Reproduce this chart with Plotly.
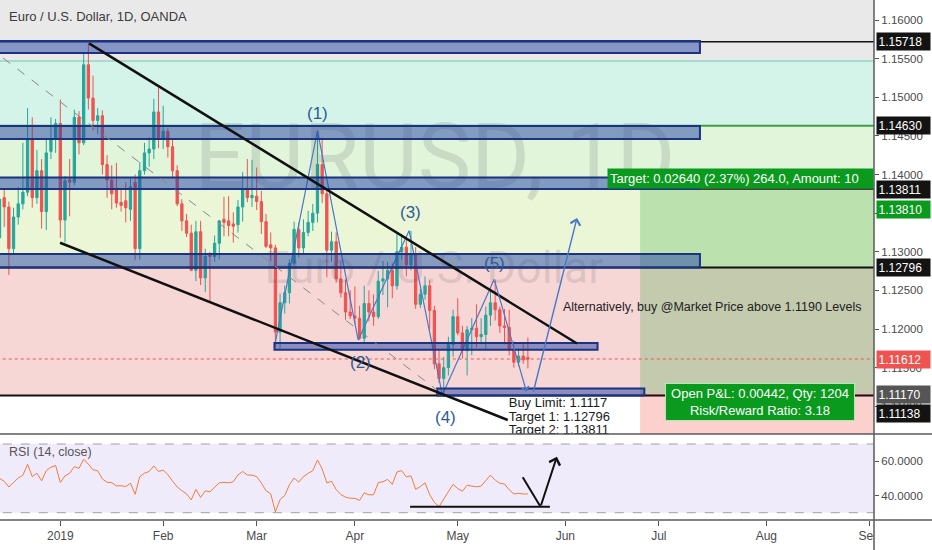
import pandas as pd
import plotly.graph_objects as go

# ---------------- data ----------------
holidays = ["2018-12-25", "2019-01-01"]
bar_dates = [d for d in pd.bdate_range("2018-12-10", "2019-09-13")
             if d.strftime("%Y-%m-%d") not in holidays]
candle_start = "2018-12-12"

opens = [
    1.1318, 1.1370, 1.1358, 1.1304, 1.1345, 1.1362, 1.1377, 1.1445, 1.1370, 1.1405,
    1.1352, 1.1430, 1.1446, 1.1466, 1.1341, 1.1393, 1.1390, 1.1474, 1.1441, 1.1542,
    1.1499, 1.1470, 1.1476, 1.1413, 1.1393, 1.1380, 1.1364, 1.1366, 1.1355, 1.1390,
    1.1304, 1.1405, 1.1428, 1.1433, 1.1481, 1.1447, 1.1456, 1.1436, 1.1405, 1.1362,
    1.1340, 1.1324, 1.1276, 1.1326, 1.1266, 1.1297, 1.1294, 1.1311, 1.1342, 1.1340,
    1.1336, 1.1335, 1.1358, 1.1382, 1.1370, 1.1372, 1.1365, 1.1339, 1.1309, 1.1305,
    1.1196, 1.1234, 1.1247, 1.1285, 1.1329, 1.1305, 1.1325, 1.1338, 1.1350, 1.1413,
    1.1375, 1.1302, 1.1313, 1.1265, 1.1247, 1.1222, 1.1217, 1.1214, 1.1188, 1.1233,
    1.1222, 1.1216, 1.1262, 1.1265, 1.1276, 1.1256, 1.1300, 1.1306, 1.1283, 1.1296,
    1.1232, 1.1245, 1.1256, 1.1224, 1.1155, 1.1136, 1.1150, 1.1180, 1.1216, 1.1195,
    1.1172, 1.1199, 1.1201, 1.1190, 1.1193, 1.1218, 1.1234, 1.1225, 1.1204, 1.1202,
    1.1173, 1.1157, 1.1165, 1.1163]
highs = [
    1.1370, 1.1382, 1.1365, 1.1357, 1.1384, 1.1441, 1.1486, 1.1474, 1.1432, 1.1420,
    1.1445, 1.1474, 1.1472, 1.1497, 1.1398, 1.1420, 1.1484, 1.1482, 1.1557, 1.1570,
    1.1528, 1.1486, 1.1483, 1.1425, 1.1412, 1.1415, 1.1380, 1.1390, 1.1395, 1.1400,
    1.1416, 1.1441, 1.1448, 1.1498, 1.1513, 1.1489, 1.1460, 1.1447, 1.1412, 1.1368,
    1.1349, 1.1335, 1.1340, 1.1340, 1.1304, 1.1300, 1.1321, 1.1341, 1.1371, 1.1372,
    1.1351, 1.1367, 1.1403, 1.1420, 1.1419, 1.1409, 1.1379, 1.1349, 1.1325, 1.1309,
    1.1246, 1.1256, 1.1290, 1.1339, 1.1338, 1.1342, 1.1353, 1.1362, 1.1455, 1.1448,
    1.1382, 1.1326, 1.1325, 1.1288, 1.1264, 1.1250, 1.1255, 1.1230, 1.1256, 1.1250,
    1.1245, 1.1275, 1.1288, 1.1287, 1.1285, 1.1323, 1.1323, 1.1315, 1.1327, 1.1306,
    1.1252, 1.1268, 1.1263, 1.1230, 1.1172, 1.1164, 1.1190, 1.1225, 1.1240, 1.1204,
    1.1204, 1.1214, 1.1232, 1.1214, 1.1229, 1.1252, 1.1264, 1.1229, 1.1226, 1.1225,
    1.1184, 1.1175, 1.1183, 1.1189]
lows = [
    1.1305, 1.1332, 1.1270, 1.1296, 1.1335, 1.1355, 1.1372, 1.1357, 1.1362, 1.1330,
    1.1328, 1.1420, 1.1428, 1.1318, 1.1312, 1.1346, 1.1386, 1.1426, 1.1438, 1.1484,
    1.1457, 1.1452, 1.1400, 1.1370, 1.1355, 1.1357, 1.1352, 1.1338, 1.1340, 1.1289,
    1.1290, 1.1400, 1.1410, 1.1420, 1.1434, 1.1433, 1.1422, 1.1395, 1.1359, 1.1327,
    1.1319, 1.1275, 1.1262, 1.1257, 1.1248, 1.1234, 1.1287, 1.1290, 1.1320, 1.1320,
    1.1312, 1.1325, 1.1339, 1.1364, 1.1358, 1.1354, 1.1323, 1.1305, 1.1288, 1.1177,
    1.1175, 1.1220, 1.1233, 1.1282, 1.1292, 1.1297, 1.1320, 1.1327, 1.1338, 1.1363,
    1.1267, 1.1287, 1.1260, 1.1241, 1.1212, 1.1213, 1.1206, 1.1186, 1.1183, 1.1210,
    1.1204, 1.1213, 1.1244, 1.1228, 1.1240, 1.1251, 1.1290, 1.1268, 1.1276, 1.1226,
    1.1227, 1.1238, 1.1199, 1.1148, 1.1130, 1.1112, 1.1140, 1.1164, 1.1192, 1.1162,
    1.1140, 1.1166, 1.1176, 1.1183, 1.1174, 1.1204, 1.1211, 1.1195, 1.1180, 1.1166,
    1.1150, 1.1152, 1.1155, 1.1149]
closes = [
    1.1368, 1.1358, 1.1304, 1.1345, 1.1362, 1.1377, 1.1445, 1.1370, 1.1405, 1.1352,
    1.1428, 1.1446, 1.1466, 1.1341, 1.1392, 1.1390, 1.1474, 1.1441, 1.1542, 1.1499,
    1.1470, 1.1476, 1.1413, 1.1393, 1.1375, 1.1363, 1.1360, 1.1357, 1.1384, 1.1304,
    1.1405, 1.1428, 1.1433, 1.1481, 1.1447, 1.1456, 1.1436, 1.1405, 1.1362, 1.1340,
    1.1324, 1.1276, 1.1326, 1.1266, 1.1294, 1.1294, 1.1311, 1.1340, 1.1338, 1.1334,
    1.1333, 1.1358, 1.1382, 1.1370, 1.1373, 1.1365, 1.1339, 1.1307, 1.1305, 1.1196,
    1.1234, 1.1247, 1.1285, 1.1329, 1.1305, 1.1325, 1.1338, 1.1350, 1.1413, 1.1375,
    1.1302, 1.1313, 1.1265, 1.1247, 1.1222, 1.1217, 1.1214, 1.1188, 1.1233, 1.1222,
    1.1216, 1.1262, 1.1265, 1.1276, 1.1256, 1.1300, 1.1306, 1.1283, 1.1296, 1.1232,
    1.1245, 1.1256, 1.1224, 1.1155, 1.1136, 1.1150, 1.1180, 1.1216, 1.1195, 1.1172,
    1.1199, 1.1201, 1.1190, 1.1193, 1.1218, 1.1234, 1.1225, 1.1204, 1.1202, 1.1173,
    1.1157, 1.1165, 1.1160, 1.1161]
rsi = [
    50.0, 48.3, 45.0, 47.5, 50.2, 51.8, 58.2, 51.0, 53.0, 48.6,
    54.5, 56.5, 57.5, 47.6, 51.4, 53.0, 56.8, 55.8, 61.1, 58.3,
    55.0, 54.4, 49.6, 47.7, 47.5, 45.6, 45.7, 45.2, 47.2, 40.7,
    51.0, 53.0, 54.0, 57.2, 54.0, 54.8, 52.2, 48.4, 45.0, 42.8,
    41.0, 37.5, 43.6, 38.9, 42.7, 42.2, 44.9, 47.4, 47.7, 47.4,
    48.0, 52.0, 54.0, 51.9, 51.9, 51.0, 47.3, 42.8, 41.0, 30.5,
    37.7, 40.0, 46.3, 50.2, 47.8, 51.0, 52.9, 54.5, 60.7, 55.5,
    47.3, 48.3, 43.5, 40.6, 39.0, 38.4, 38.4, 37.1, 41.6, 40.4,
    40.5, 47.5, 48.0, 49.4, 46.5, 53.7, 54.5, 50.8, 51.5, 43.6,
    45.2, 47.4, 40.5, 36.0, 33.5, 38.2, 42.3, 46.5, 44.0, 42.5,
    46.0, 45.5, 45.1, 45.5, 49.0, 51.9, 49.0, 47.1, 46.7, 43.3,
    40.9, 41.3, 40.9, 40.9]

# price levels drawn on the chart
lvl_top, lvl_1463, lvl_13811, lvl_12796, lvl_11138 = 1.15718, 1.14630, 1.13811, 1.12796, 1.11138
last_price, entry, target = 1.11612, 1.1117, 1.1381
# support / resistance boxes: (x0 bar, x1 bar, low, high)
boxes = [(-5, 151.8, 1.15573, 1.15728), (-5, 151.8, 1.14460, 1.14628),
         (-5, 151.8, 1.13811, 1.13960), (-5, 151.8, 1.12796, 1.12971),
         (60.8, 129.9, 1.11730, 1.11820), (95.6, 139.9, 1.11138, 1.11230)]
# wave count drawing (bar, price)
wave_x = [61.0, 70.0, 78.7, 89.6, 96.7, 107.8]
wave_y = [1.1183, 1.14567, 1.11858, 1.13273, 1.11146, 1.12643]
wave_labels = ["(1)", "(2)", "(3)", "(4)", "(5)"]
wave_lab_x = [70.1, 79.3, 89.8, 97.3, 107.96]
wave_lab_y = [1.14796, 1.11573, 1.13502, 1.10861, 1.12854]
price_tags = [("1.15718", 1.15718, "#131313"), ("1.14630", 1.14630, "#131313"),
              ("1.13811", 1.13811, "#131313"), ("1.13810", 1.13553, "#0a9a1e"),
              ("1.12796", 1.12796, "#131313"), ("1.11612", 1.11605, "#ef5350"),
              ("1.11170", 1.11158, "#555555"), ("1.11138", 1.10906, "#131313")]

# ---------------- build ----------------
idx = {d.strftime("%Y-%m-%d"): k for k, d in enumerate(bar_dates)}
s0 = idx[candle_start]
xs = list(range(s0, s0 + len(opens)))

tickvals, ticktext = [], []
seen = set()
for k, d in enumerate(bar_dates):
    key = (d.year, d.month)
    if d.year == 2019 and key not in seen:
        seen.add(key)
        tickvals.append(k)
        ticktext.append("2019" if d.month == 1 else d.strftime("%b"))

XR = [2.104, 189.02]
YR = [1.10641, 1.16259]
RR = [25.75, 75.82]
split = 86 / 520.0
FONT = "Liberation Sans, Arial, sans-serif"

fig = go.Figure()

# watermark
fig.add_trace(go.Scatter(
    x=[95.1, 94.9], y=[1.14123, 1.12738], mode="text",
    text=["EURUSD, 1D", "Euro / U.S. Dollar"],
    textfont=dict(family="Roboto", size=[90, 45], color="rgba(90,90,90,0.16)"),
    hoverinfo="skip", showlegend=False, xaxis="x", yaxis="y"))

fig.add_trace(go.Candlestick(
    x=xs, open=opens, high=highs, low=lows, close=closes,
    increasing=dict(line=dict(color="#26a69a", width=1), fillcolor="#26a69a"),
    decreasing=dict(line=dict(color="#ef5350", width=1), fillcolor="#ef5350"),
    whiskerwidth=0, hoverinfo="skip", showlegend=False, xaxis="x", yaxis="y"))

# wave zigzag
fig.add_trace(go.Scatter(x=wave_x, y=wave_y, mode="lines",
                         line=dict(color="#4a78c8", width=1.2),
                         hoverinfo="skip", showlegend=False, xaxis="x", yaxis="y"))

# buy limit text (clipped at pane bottom)
fig.add_trace(go.Scatter(
    x=[110.9, 110.9, 110.9], y=[1.11029, 1.10848, 1.10680], mode="text",
    text=["Buy Limit: 1.1117", "Target 1: 1.12796", "Target 2: 1.13811"],
    textposition="middle right", textfont=dict(family=FONT, size=13, color="#1a1a1a"),
    cliponaxis=True, hoverinfo="skip", showlegend=False, xaxis="x", yaxis="y"))

# RSI
fig.add_trace(go.Scatter(x=xs, y=rsi, mode="lines", line=dict(color="#f07d3a", width=1),
                         hoverinfo="skip", showlegend=False, xaxis="x2", yaxis="y2"))

shapes = []
def rect(x0, x1, y0, y1, fill, line=None, layer="below", xref="x", yref="y", lw=0):
    d = dict(type="rect", xref=xref, yref=yref, x0=x0, x1=x1, y0=y0, y1=y1,
             fillcolor=fill, layer=layer, line=dict(width=lw, color=line or "rgba(0,0,0,0)"))
    shapes.append(d)

def hline(y, color, width=1.5, dash="solid", x0=-5, x1=200, layer="above", xref="x", yref="y"):
    shapes.append(dict(type="line", xref=xref, yref=yref, x0=x0, x1=x1, y0=y, y1=y,
                       layer=layer, line=dict(color=color, width=width, dash=dash)))

def seg(x0, y0, x1, y1, color, width=1.5, dash="solid", xref="x", yref="y"):
    shapes.append(dict(type="line", xref=xref, yref=yref, x0=x0, y0=y0, x1=x1, y1=y1,
                       layer="above", line=dict(color=color, width=width, dash=dash)))

# background zones
rect(-5, 200, 1.15469, 1.17, "#e9e9e9")
rect(-5, 200, lvl_1463, 1.15469, "#d4f4ea")
rect(-5, 200, lvl_13811, lvl_1463, "#e1f5db")
rect(-5, 200, lvl_12796, lvl_13811, "#ebf6d7")
rect(-5, 200, lvl_11138, lvl_12796, "#f7d6d6")
hline(1.15469, "#6cc9b0", 1, layer="below")
# long position tool
rect(139.0, 200, entry, target, "rgba(76,175,80,0.30)")
rect(139.0, 200, 1.0, entry, "rgba(244,67,54,0.25)")
# RSI band
rect(-5, 200, 30, 70, "#f0ebfb", xref="x2", yref="y2")
hline(70, "#a0a0a0", 1, "dash", xref="x2", yref="y2")
hline(30, "#a0a0a0", 1, "dash", xref="x2", yref="y2")

# horizontal levels
hline(lvl_top, "#111111", 1.5)
hline(lvl_1463, "#3f9f47", 2)
hline(lvl_13811, "#111111", 1.5)
hline(lvl_12796, "#111111", 2)
hline(lvl_11138, "#111111", 2)
hline(last_price, "#ef5350", 1, "dot")
# blue boxes
for b in boxes:
    rect(b[0], b[1], b[2], b[3], "rgba(35,65,165,0.5)", line="#1b3380", layer="above", lw=2)
# trend lines
seg(21.14, 1.15698, 125.5, 1.11812, "#111111", 2.5)
seg(14.94, 1.13117, 110.7, 1.10822, "#111111", 2.5)
seg(2.75, 1.15508, 95.56, 1.11210, "#888888", 1, "dash")
# RSI drawing
seg(89.8, 33.5, 119.7, 33.5, "#111111", 2, xref="x2", yref="y2")
seg(113.9, 50.6, 117.7, 33.5, "#111111", 2, xref="x2", yref="y2")
# separators
shapes.append(dict(type="line", xref="paper", yref="paper", x0=0, x1=1.07, y0=split, y1=split,
                   line=dict(color="#5a5a5a", width=1.5), layer="above"))
shapes.append(dict(type="line", xref="paper", yref="paper", x0=0, x1=1.07, y0=0, y1=0,
                   line=dict(color="#5a5a5a", width=1.5), layer="above"))
shapes.append(dict(type="rect", xref="paper", yref="paper", x0=1.0, x1=1.07, y0=-0.06, y1=-0.002,
                   fillcolor="white", line=dict(width=0), layer="above"))
shapes.append(dict(type="line", xref="paper", yref="paper", x0=1.0, x1=1.0, y0=-0.06, y1=1,
                   line=dict(color="#5a5a5a", width=1.5), layer="above"))

ann = []
ann.append(dict(xref="paper", yref="paper", x=0.008, y=1 - 17 / 520, xanchor="left", yanchor="middle",
                text="Euro / U.S. Dollar, 1D, OANDA", showarrow=False,
                font=dict(family=FONT, size=13, color="#3b3b3b")))
ann.append(dict(xref="paper", yref="paper", x=0.008, y=(520 - 452) / 520, xanchor="left", yanchor="middle",
                text="RSI (14, close)", showarrow=False, font=dict(family=FONT, size=12.5, color="#555555")))
for t, wx, wy in zip(wave_labels, wave_lab_x, wave_lab_y):
    ann.append(dict(x=wx, y=wy, xref="x", yref="y", text=t, showarrow=False,
                    font=dict(family=FONT, size=17, color="#2e5b94")))
ann.append(dict(x=122.1, y=1.12285, xref="x", yref="y", xanchor="left", showarrow=False,
                text="Alternatively, buy @Market Price above 1.1190 Levels",
                font=dict(family=FONT, size=12.5, color="#222222")))
ann.append(dict(x=131.9, y=1.13948, xref="x", yref="y", xanchor="left", showarrow=False,
                text="Target: 0.02640 (2.37%) 264.0, Amount: 10", width=261, align="left",
                bgcolor="#0a9a1e", borderpad=2, font=dict(family=FONT, size=13, color="white")))
ann.append(dict(x=164.6, y=1.11055, xref="x", yref="y", showarrow=False,
                text="Open P&L: 0.00442, Qty: 1204<br>Risk/Reward Ratio: 3.18", width=184,
                bgcolor="#0a9a1e", bordercolor="#b8e3b8", borderwidth=1, borderpad=2,
                font=dict(family=FONT, size=13, color="white")))
# arrows
ann.append(dict(x=125.5, y=1.13437, ax=116.1, ay=1.11172, xref="x", yref="y", axref="x", ayref="y",
                text="", showarrow=True, arrowhead=4, arrowsize=1.4, arrowwidth=1.4, arrowcolor="#4a78c8"))
ann.append(dict(x=114.7, y=1.11188, ax=107.8, ay=1.12643, xref="x", yref="y", axref="x", ayref="y",
                text="", showarrow=True, arrowhead=4, arrowsize=1.2, arrowwidth=1.2, arrowcolor="#4a78c8"))
ann.append(dict(x=121.2, y=62.6, ax=117.7, ay=33.5, xref="x2", yref="y2", axref="x2", ayref="y2",
                text="", showarrow=True, arrowhead=4, arrowsize=1.1, arrowwidth=2, arrowcolor="#111111"))
# price tags on the right axis
for txt, py, bg in price_tags:
    ann.append(dict(xref="paper", yref="y", x=1.0023, y=py, xanchor="left", yanchor="middle",
                    text=txt, showarrow=False, bgcolor=bg, width=50, align="left", borderpad=1.5,
                    font=dict(family=FONT, size=12, color="white")))

fig.update_layout(
    width=932, height=550, margin=dict(l=0, r=58, t=0, b=30),
    paper_bgcolor="white", plot_bgcolor="white", showlegend=False, hovermode=False,
    font=dict(family=FONT, size=12, color="#4a4a4a"),
    xaxis=dict(domain=[0, 1], anchor="y", range=XR, showticklabels=False, showgrid=False,
               zeroline=False, ticks="", rangeslider=dict(visible=False), fixedrange=True),
    yaxis=dict(domain=[split, 1], anchor="x", range=YR, side="right", dtick=0.005, tick0=1.16,
               tickformat=".5f", ticks="outside", ticklen=4, tickcolor="#555555",
               tickfont=dict(size=11.5, color="#4a4a4a"), showgrid=False, zeroline=False),
    xaxis2=dict(domain=[0, 1], anchor="y2", range=XR, tickvals=tickvals, ticktext=ticktext,
                ticks="outside", ticklen=5, tickcolor="#555555", showgrid=False, zeroline=False,
                tickfont=dict(size=12, color="#4a4a4a")),
    yaxis2=dict(domain=[0, split], anchor="x2", range=RR, side="right", tickvals=[40, 60],
                ticktext=["40.0000", "60.0000"], ticks="outside", ticklen=4, tickcolor="#555555",
                tickfont=dict(size=11.5, color="#4a4a4a"), showgrid=False, zeroline=False),
    shapes=shapes, annotations=ann)

fig.write_html("out.html", config={"displayModeBar": False},
               post_script="document.body.style.margin='0';document.body.style.overflow='hidden';")
